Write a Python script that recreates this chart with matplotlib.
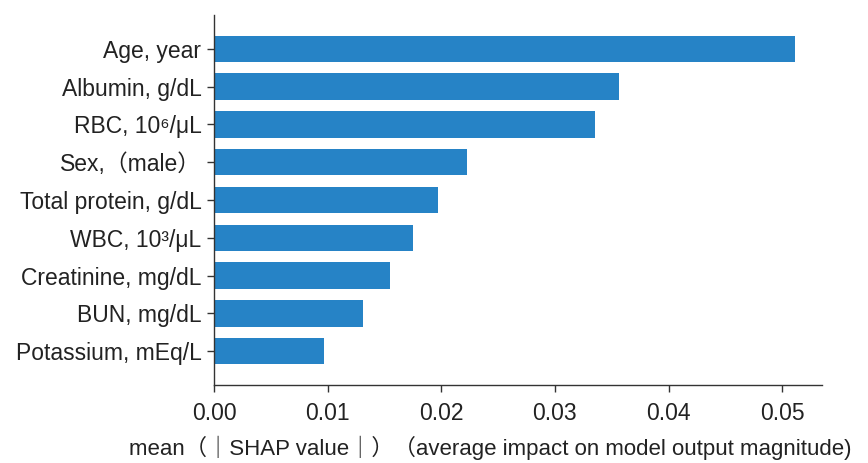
import matplotlib
matplotlib.use("Agg")
import matplotlib.pyplot as plt

plt.rcParams['font.family'] = ['Liberation Sans', 'Noto Sans CJK JP', 'DejaVu Sans']

features = [
    "Age, year",
    "Albumin, g/dL",
    "RBC, 10⁶/μL",
    "Sex,（male）",
    "Total protein, g/dL",
    "WBC, 10³/μL",
    "Creatinine, mg/dL",
    "BUN, mg/dL",
    "Potassium, mEq/L",
]
mean_abs_shap = [0.0511, 0.0356, 0.0335, 0.0223, 0.0197, 0.0175, 0.0155, 0.0131, 0.0097]
xticks = [0.00, 0.01, 0.02, 0.03, 0.04, 0.05]
xlabel = "mean（｜SHAP value｜）（average impact on model output magnitude)"

FS = 16.5
TXT = '#222222'

fig = plt.figure(figsize=(8.68, 4.63), dpi=100)
ax = fig.add_axes([0.2465, 0.168, 0.7005, 0.8])

n = len(features)
ypos = list(range(n - 1, -1, -1))
ax.barh(ypos, mean_abs_shap, height=0.7, color='#2683c6', align='center')

ax.set_yticks(ypos)
ax.set_yticklabels(features, fontsize=FS, color=TXT)
ax.set_xticks(xticks)
ax.set_xticklabels([f"{v:.2f}" for v in xticks], fontsize=FS, color=TXT)
ax.set_xlim(0, 0.0535)
ax.set_ylim(-0.9, n - 1 + 0.9)
ax.set_xlabel(xlabel, fontsize=16, color=TXT)
ax.xaxis.set_label_coords(0.455, -0.137)

for s in ('top', 'right'):
    ax.spines[s].set_visible(False)
for s in ('left', 'bottom'):
    ax.spines[s].set_color('#333333')
    ax.spines[s].set_linewidth(1.0)
ax.tick_params(axis='y', length=5, width=1, color='#333333', pad=4)
ax.tick_params(axis='x', length=5, width=1, color='#333333', pad=7)

fig.savefig("out.png", dpi=100)
